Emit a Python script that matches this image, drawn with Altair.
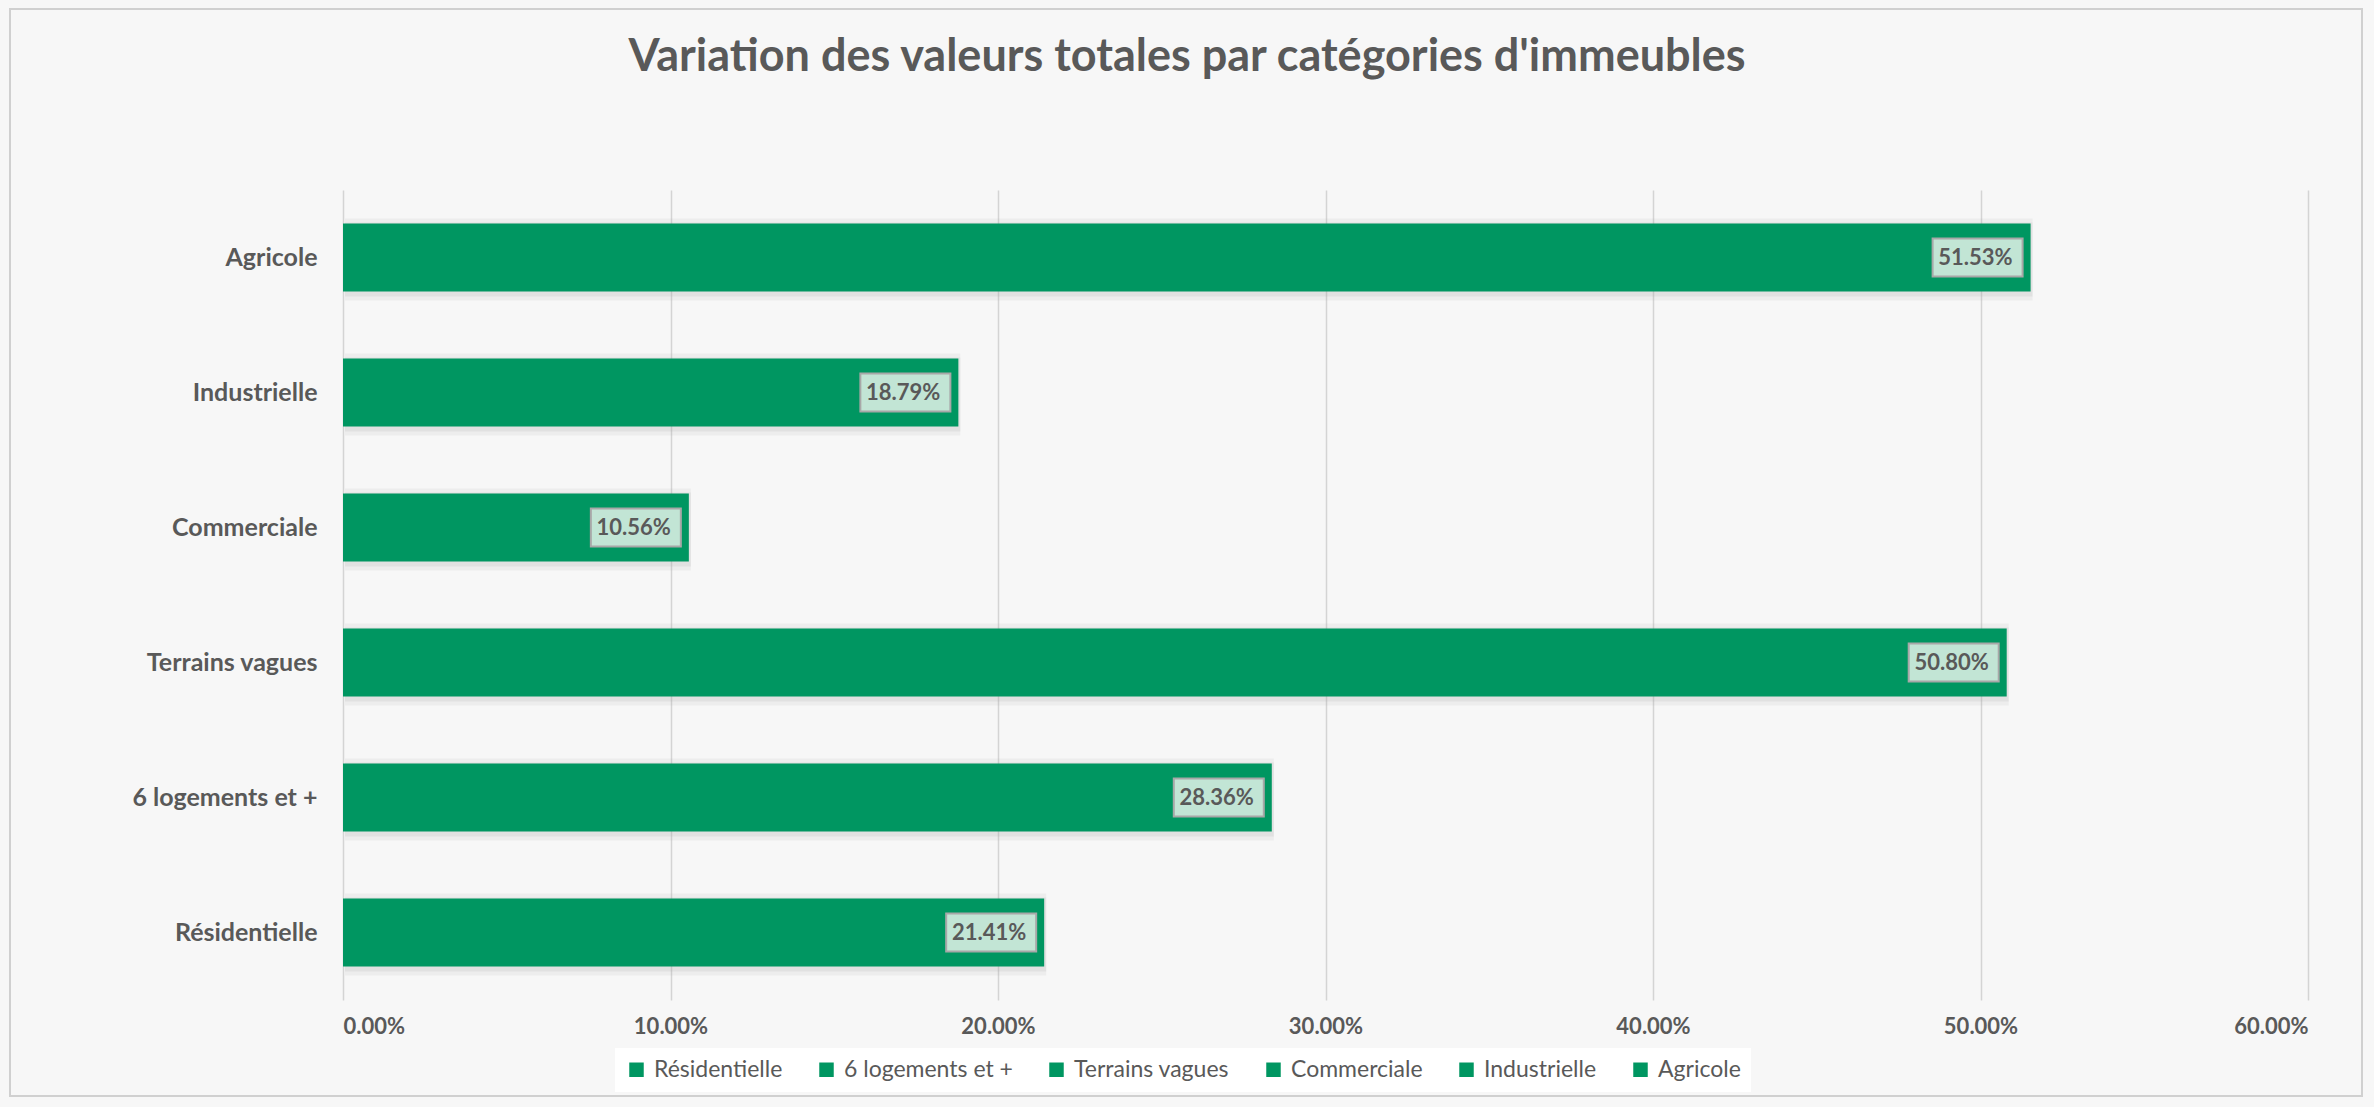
import altair as alt
import pandas as pd

title_text = "Variation des valeurs totales par catégories d'immeubles"
categories = ["Résidentielle", "6 logements et +", "Terrains vagues",
              "Commerciale", "Industrielle", "Agricole"]
values = [0.2141, 0.2836, 0.5080, 0.1056, 0.1879, 0.5153]
x_ticks = [0.0, 0.1, 0.2, 0.3, 0.4, 0.5, 0.6]

GREEN = "#009661"
GREY_TXT = "#595959"
FONT = "Lato"

df = pd.DataFrame({"cat": categories, "val": values})
top_to_bottom = list(reversed(categories))

y_enc = alt.Y("cat:N", sort=top_to_bottom, title=None,
              scale=alt.Scale(paddingInner=0.0, paddingOuter=0.0),
              axis=alt.Axis(labelFont=FONT, labelFontSize=25, labelFontWeight="bold",
                            labelColor=GREY_TXT, labelPadding=26, ticks=False,
                            labelLimit=0, domain=False, grid=False))
x_enc = alt.X("val:Q", title=None,
              scale=alt.Scale(domain=[0, 0.6], nice=False),
              axis=alt.Axis(values=x_ticks, format=".2%", labelFont=FONT,
                            labelFontSize=22, labelFontWeight="bold", labelColor=GREY_TXT,
                            labelPadding=16, ticks=False, domain=False, grid=True,
                            gridColor="#d4d4d4", gridWidth=1.5))

base = alt.Chart(df)

shadow1 = base.mark_bar(size=82, color="#9a9a9a", opacity=0.10, xOffset=2, x2Offset=2, yOffset=2).encode(
    y=y_enc, x=x_enc)
shadow2 = base.mark_bar(size=74, color="#9a9a9a", opacity=0.14, xOffset=2, x2Offset=2, yOffset=2).encode(
    y=y_enc, x=x_enc)

bars = base.mark_bar(size=68).encode(
    y=y_enc, x=x_enc,
    color=alt.Color("cat:N", sort=categories, title=None,
                    scale=alt.Scale(domain=categories, range=[GREEN] * 6),
                    legend=alt.Legend(orient="none", direction="horizontal",
                                      legendX=272, legendY=858,
                                      symbolType="square", symbolSize=210,
                                      symbolStrokeWidth=0,
                                      labelFont=FONT, labelFontSize=23,
                                      labelColor=GREY_TXT, columnPadding=32,
                                      labelOffset=6, labelLimit=0,
                                      fillColor="#ffffff", padding=10)))

boxes = base.mark_bar(size=38, color="#c2e5d5", stroke="#a8a8a8", strokeWidth=2,
                      xOffset=-98, x2Offset=-8).encode(
    y=y_enc, x=alt.X("val:Q"), x2=alt.X2("val"))

labels = base.mark_text(align="right", baseline="middle", dx=-18, font=FONT,
                        fontSize=22, fontWeight="bold", color=GREY_TXT).encode(
    y=y_enc, x=alt.X("val:Q"), text=alt.Text("val:Q", format=".2%"))

one = pd.DataFrame({"t": [title_text]})
frame = alt.Chart(one).mark_rect(
    fill=None, stroke="#d0d0d0", strokeWidth=2).encode(
    x=alt.value(-333), x2=alt.value(2019), y=alt.value(-181), y2=alt.value(906))

title = alt.Chart(one).mark_text(font=FONT, fontSize=45, fontWeight="bold",
                                 color=GREY_TXT, align="center", baseline="middle").encode(
    x=alt.value(844), y=alt.value(-133), text="t:N")

chart = alt.layer(frame, shadow1, shadow2, bars, boxes, labels, title).properties(
    width=1965, height=810,
    padding={"left": 343, "top": 190, "right": 66, "bottom": 107},
    autosize=alt.AutoSizeParams(type="none"),
    background="#f7f7f7",
).configure_view(stroke=None)

chart.save("out.html", embed_options={"renderer": "svg", "actions": False})
